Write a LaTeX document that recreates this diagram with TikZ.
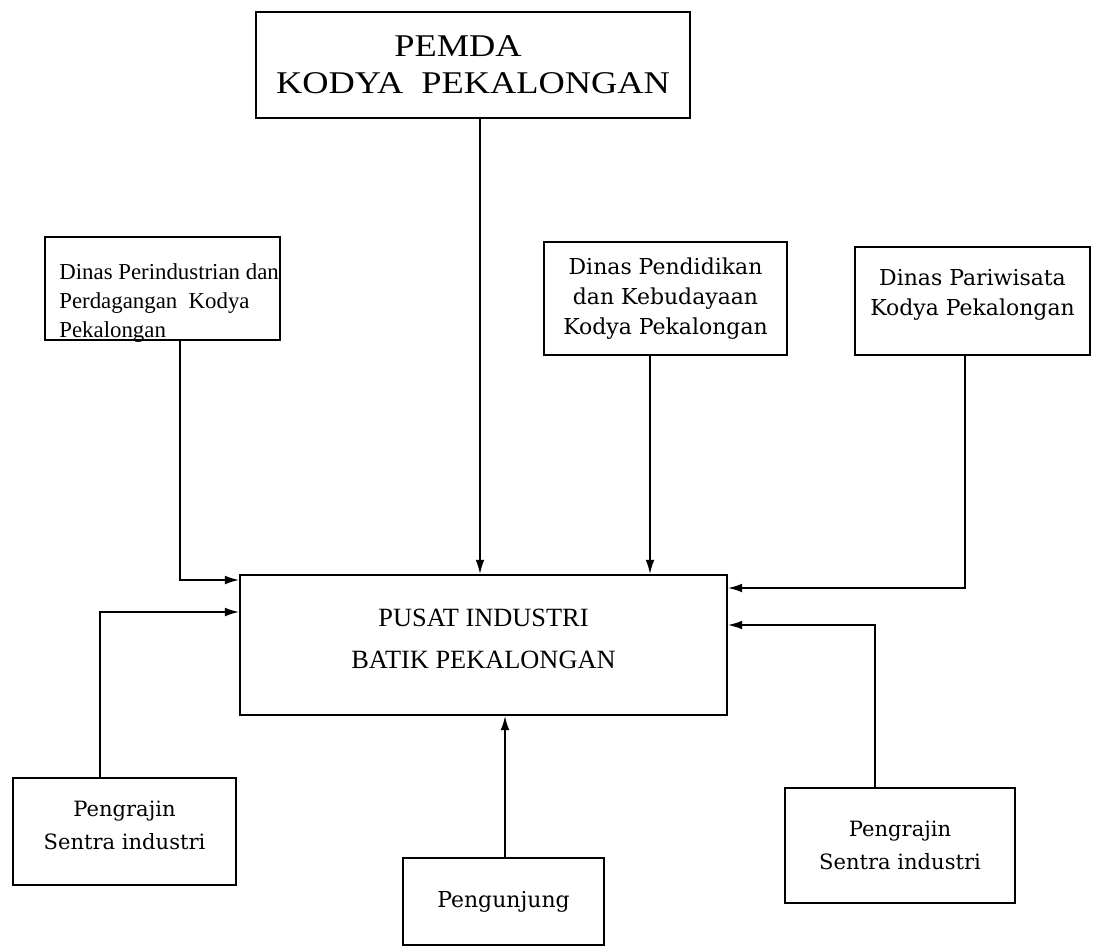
\documentclass[tikz,border=0pt]{standalone}
\usepackage{fontspec}
\setmainfont{Liberation Serif}
\newfontfamily\boxfont{DejaVu Serif}
\newfontfamily\widefont[FakeStretch=1.15]{Liberation Serif}
\usetikzlibrary{arrows.meta}

\begin{document}
\begin{tikzpicture}[x=0.02cm, y=-0.02cm,
		box/.style={draw, line width=1.3pt, inner sep=0pt, align=center},
		small/.style={font=\boxfont\fontsize{12.5}{17}\selectfont},
		arr/.style={line width=0.8pt, -{Latex[length=8pt, width=5pt]}}]
			%%%%% START %%%%%
			\useasboundingbox (0, 0) rectangle (1094, 948);
			
			\node[box, minimum width=8.68cm, minimum height=2.12cm, font=\widefont\fontsize{18}{21}\selectfont] (pemda) at (473, 65) {PEMDA\hspace*{0.6cm}\\KODYA\ \ PEKALONGAN};
			\node[box, minimum width=9.74cm, minimum height=2.8cm, font=\fontsize{15}{24}\selectfont] (pusat) at (483.5, 645) {PUSAT INDUSTRI\\ BATIK PEKALONGAN\\[-17pt]};
			
			\node[box, minimum width=4.7cm, minimum height=2.06cm] (perin) at (162.5, 288.5) {};
			\node[anchor=west, align=left, inner sep=0pt, font=\fontsize{13}{16.5}\selectfont] (perintxt) at (59, 303) {Dinas Perindustrian dan\\Perdagangan \ Kodya\\Pekalongan};
			\node[box, small, minimum width=4.86cm, minimum height=2.26cm] (pendid) at (665.5, 298.5) {Dinas Pendidikan\\dan Kebudayaan\\Kodya Pekalongan};
			\node[box, small, minimum width=4.7cm, minimum height=2.16cm] (pariw) at (972.5, 301) {Dinas Pariwisata\\Kodya Pekalongan\\[-7pt]};
			
			\node[box, small, minimum width=4.46cm, minimum height=2.14cm, font=\boxfont\fontsize{12}{19}\selectfont] (pengL) at (124.5, 831.5) {Pengrajin\\Sentra industri\\[-12pt]};
			\node[box, small, minimum width=4.6cm, minimum height=2.3cm, font=\boxfont\fontsize{12}{19}\selectfont] (pengR) at (900, 845.5) {Pengrajin\\Sentra industri};
			\node[box, small, minimum width=4.02cm, minimum height=1.74cm] (tamu) at (503.5, 901.5) {Pengunjung};
			
			% arrows into the centre
			\draw[arr] (pemda.south -| 480, 0) -- (pusat.north -| 480, 0);
			\draw[arr] (pendid.south -| 650, 0) -- (pusat.north -| 650, 0);
			\draw[arr] (perin.south -| 180, 0) |- (pusat.west |- 0, 580);
			\draw[arr] (pengL.north -| 100, 0) |- (pusat.west |- 0, 612);
			\draw[arr] (pariw.south -| 965, 0) |- (pusat.east |- 0, 588);
			\draw[arr] (pengR.north -| 875, 0) |- (pusat.east |- 0, 625);
			\draw[arr] (tamu.north -| 505, 0) -- (pusat.south -| 505, 0);
			%%%%% END %%%%%
		\end{tikzpicture}
\end{document}
